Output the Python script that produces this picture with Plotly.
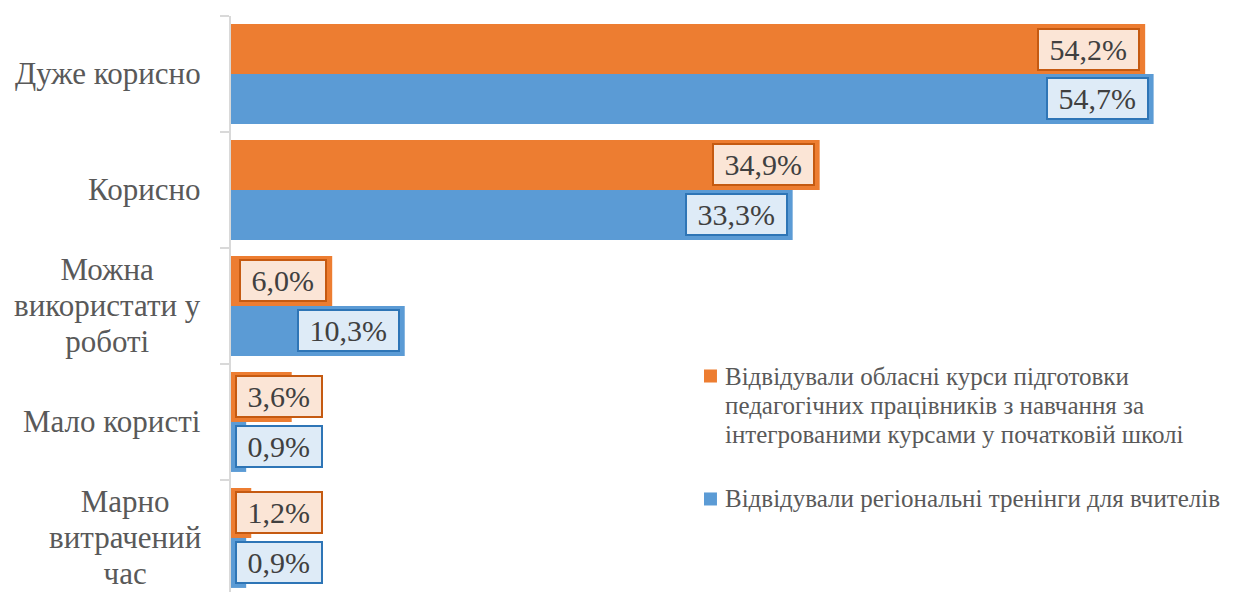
import plotly.graph_objects as go

# categories (top to bottom) and the two series, in percent
categories = [
    "Дуже корисно",
    "Корисно",
    "Можна<br>використати у<br>роботі",
    "Мало користі",
    "Марно<br>витрачений<br>час",
]
regional_courses = [54.2, 34.9, 6.0, 3.6, 1.2]
regional_trainings = [54.7, 33.3, 10.3, 0.9, 0.9]

series_names = [
    "Відвідували обласні курси підготовки<br>педагогічних працівників з навчання за<br>інтегрованими курсами у початковій школі",
    "Відвідували регіональні тренінги для вчителів",
]

FONT = "Liberation Serif"
ORANGE = "#ED7D31"
BLUE = "#5B9BD5"
LABEL_STYLE = {
    ORANGE: dict(bgcolor="#FBE5D6", bordercolor="#C55A11"),
    BLUE: dict(bgcolor="#DEEBF7", bordercolor="#2E75B6"),
}
BAR_WIDTH = 0.431


def spaced(text, size):
    # wrap each line so the outer font sets the (tighter) line spacing
    return "<br>".join(f"<span style='font-size:{size}px'>{line}</span>"
                       for line in text.split("<br>"))


fig = go.Figure()
for values, name, color in [(regional_courses, series_names[0], ORANGE),
                            (regional_trainings, series_names[1], BLUE)]:
    fig.add_trace(go.Bar(
        x=values,
        y=categories,
        orientation="h",
        name=name.replace("<br>", " "),
        marker=dict(color=color, line=dict(width=0)),
        hoverinfo="skip",
        showlegend=False,
    ))

# data labels, boxed like the original ("inside end", pushed right for tiny bars)
for values, color, offset in [(regional_courses, ORANGE, -BAR_WIDTH / 2),
                              (regional_trainings, BLUE, BAR_WIDTH / 2)]:
    for i, v in enumerate(values):
        fig.add_annotation(
            x=max(v, 5.75), y=i + offset, xref="x", yref="y",
            text="\u00a0" + f"{v:.1f}".replace(".", ",") + "%\u00a0",
            showarrow=False, xanchor="right", yanchor="middle", xshift=-5,
            font=dict(family=FONT, size=30, color="#404040"),
            borderwidth=2, borderpad=3,
            **LABEL_STYLE[color],
        )

# category labels, centred lines like the original
for i, cat in enumerate(categories):
    fig.add_annotation(
        x=0, y=i, xref="paper", yref="y",
        text=spaced(cat, 31),
        showarrow=False, xanchor="right", yanchor="middle", xshift=-28,
        align="center",
        font=dict(family=FONT, size=27.7, color="#595959"),
    )

# legend drawn by hand (square marker + one annotation per line)
legend_rows = [0.375, 0.1615]   # paper y of the first line of each entry
line_step = 29 / 576
for name, color, y0 in zip(series_names, [ORANGE, BLUE], legend_rows):
    fig.add_shape(type="rect", xref="paper", yref="paper",
                  x0=0.4674, x1=0.4802, y0=y0 - 0.0113, y1=y0 + 0.0113,
                  fillcolor=color, line=dict(width=0))
    for k, line in enumerate(name.split("<br>")):
        fig.add_annotation(
            x=0.486, y=y0 - k * line_step, xref="paper", yref="paper",
            text=line, showarrow=False, xanchor="left", yanchor="middle",
            font=dict(family=FONT, size=25, color="#595959"),
        )

# page body has an 8px margin, so the figure is 8px smaller each way
fig.update_layout(
    width=1248,
    height=584,
    margin=dict(l=223, r=13, t=8, b=0),
    barmode="group",
    bargap=0.138,
    bargroupgap=0,
    plot_bgcolor="white",
    paper_bgcolor="white",
    showlegend=False,
    xaxis=dict(range=[0, 60], visible=False, fixedrange=True),
    yaxis=dict(
        range=[4.466, -0.5],
        showticklabels=False,
        showline=True, linecolor="#D9D9D9", linewidth=1.5,
        ticks="outside", tickson="boundaries", ticklen=9,
        tickcolor="#D9D9D9", tickwidth=1.5,
        showgrid=False, zeroline=False,
    ),
)

fig.write_html("out.html")
